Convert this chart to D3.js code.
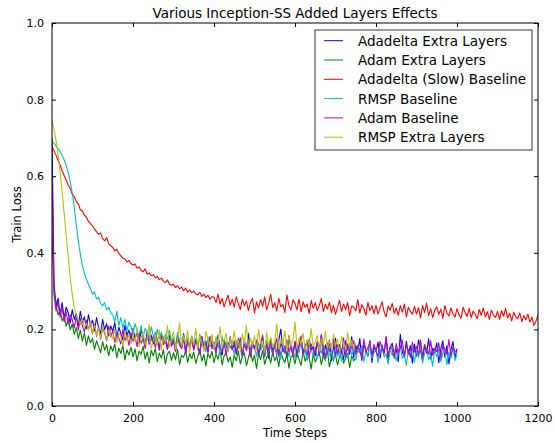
<!DOCTYPE html>
<html lang="en">
<head>
<meta charset="UTF-8">
<title>Inception-SS</title>
<script src="https://d3js.org/d3.v7.min.js"></script>
<style>
  body{ margin:0; padding:0; background:#fff; }
  svg{ display:block; font-family:"DejaVu Sans", sans-serif; }
</style>
</head>
<body>
<svg id="misvg"></svg>
<script>
// one value every 5 time steps
let paso = 5;

let adadeltaExtra = [
 .700,.320,.262,.281,.238,.270,.229,.258,.244,.217,
 .252,.226,.241,.209,.247,.218,.233,.201,.239,.212,
 .224,.196,.231,.205,.188,.226,.199,.215,.183,.209,
 .195,.218,.178,.206,.189,.172,.211,.184,.198,.169,
 .203,.176,.192,.163,.199,.181,.158,.194,.170,.185,
 .162,.191,.173,.150,.187,.166,.179,.148,.184,.160,
 .176,.145,.183,.164,.152,.189,.141,.171,.158,.180,
 .147,.174,.160,.137,.182,.153,.169,.142,.178,.155,
 .166,.139,.185,.150,.133,.172,.158,.144,.181,.148,
 .161,.135,.176,.152,.128,.168,.145,.189,.140,.163,
 .149,.171,.131,.158,.180,.137,.165,.124,.175,.146,
 .160,.133,.172,.201,.142,.156,.127,.183,.150,.138,
 .169,.129,.157,.178,.136,.162,.121,.174,.147,.155,
 .131,.168,.144,.185,.126,.159,.139,.172,.118,.153,
 .177,.132,.160,.143,.121,.170,.149,.135,.181,.127,
 .158,.140,.176,.119,.163,.146,.130,.171,.114,.155,
 .142,.167,.125,.159,.137,.178,.120,.152,.164,.133,
 .149,.116,.187,.141,.127,.169,.135,.158,.112,.162,
 .130,.173,.145,.118,.160,.138,.176,.123,.151,.140,
 .165,.113,.149,.170,.128,.157,.110,.146,.168,.125,
 .150]

let adamExtra = [
 .450,.300,.262,.238,.251,.222,.236,.208,.229,.199,
 .214,.187,.205,.176,.198,.169,.191,.158,.183,.165,
 .176,.148,.170,.155,.139,.168,.146,.160,.131,.157,
 .143,.162,.126,.151,.137,.158,.120,.147,.133,.154,
 .128,.149,.118,.143,.135,.156,.122,.141,.112,.146,
 .131,.150,.116,.138,.125,.147,.110,.136,.143,.119,
 .139,.121,.148,.108,.133,.127,.145,.114,.137,.124,
 .141,.111,.130,.146,.117,.135,.104,.138,.125,.143,
 .113,.136,.122,.149,.107,.131,.140,.115,.128,.101,
 .134,.118,.144,.110,.129,.139,.105,.126,.147,.116,
 .132,.098,.138,.121,.145,.109,.127,.135,.112,.141,
 .118,.130,.103,.142,.124,.113,.137,.099,.128,.133,
 .110,.139,.121,.106,.143,.117,.131,.125,.097,.136,
 .115,.128,.140,.108,.132,.119,.145,.102,.127,.121,
 .134,.107,.129,.140,.112,.124,.138,.100,.131,.118,
 .126]

let adadeltaSlow = [
 .677,.666,.655,.641,.630,.614,.602,.590,.577,.568,
 .553,.547,.533,.528,.512,.509,.498,.493,.482,.476,
 .470,.462,.455,.448,.452,.437,.431,.440,.424,.418,
 .414,.405,.409,.398,.392,.386,.384,.376,.380,.372,
 .368,.371,.360,.363,.354,.350,.358,.344,.347,.340,
 .343,.335,.338,.330,.334,.326,.322,.329,.318,.315,
 .318,.309,.314,.306,.311,.301,.308,.297,.303,.296,
 .300,.293,.290,.297,.286,.292,.283,.289,.279,.286,
 .284,.270,.292,.266,.281,.259,.276,.289,.263,.279,
 .258,.285,.268,.252,.279,.262,.274,.249,.270,.281,
 .243,.272,.256,.278,.260,.285,.251,.268,.292,.257,
 .270,.248,.281,.259,.265,.244,.290,.262,.251,.277,
 .268,.251,.279,.246,.272,.258,.266,.242,.276,.255,
 .270,.249,.262,.281,.247,.266,.253,.271,.244,.263,
 .239,.259,.276,.247,.266,.252,.270,.236,.261,.258,
 .248,.278,.243,.265,.254,.237,.270,.249,.262,.241,
 .263,.240,.257,.272,.246,.233,.261,.250,.268,.242,
 .256,.237,.262,.245,.266,.232,.258,.247,.240,.260,
 .240,.257,.230,.262,.244,.269,.236,.254,.231,.250,
 .259,.239,.253,.229,.262,.243,.235,.256,.241,.232,
 .254,.238,.229,.258,.244,.234,.255,.231,.248,.239,
 .228,.252,.237,.256,.233,.246,.226,.250,.238,.231,
 .247,.226,.249,.235,.255,.230,.242,.222,.245,.233,
 .228,.243,.220,.236,.225,.240,.219,.232,.210,.221,
 .238]

let rmspBase = [
 .690,.686,.679,.672,.664,.655,.643,.628,.610,.586,
 .556,.518,.472,.431,.396,.367,.346,.331,.318,.306,
 .292,.298,.279,.284,.268,.262,.270,.251,.258,.243,
 .238,.219,.247,.210,.231,.203,.226,.196,.219,.207,
 .189,.215,.196,.182,.210,.178,.203,.191,.172,.207,
 .184,.168,.201,.176,.193,.161,.188,.174,.198,.165,
 .180,.157,.192,.171,.150,.186,.165,.177,.148,.183,
 .162,.175,.146,.187,.158,.169,.141,.180,.155,.172,
 .149,.176,.160,.138,.181,.152,.167,.143,.174,.156,
 .137,.170,.151,.163,.132,.175,.147,.158,.139,.168,
 .153,.130,.166,.145,.160,.127,.171,.142,.155,.136,
 .164,.133,.150,.122,.169,.141,.157,.128,.161,.146,
 .125,.158,.139,.167,.131,.150,.119,.162,.143,.136,
 .156,.124,.148,.138,.165,.121,.152,.133,.145,.115,
 .159,.130,.142,.118,.155,.137,.126,.161,.134,.147,
 .120,.151,.139,.157,.116,.144,.131,.163,.125,.138,
 .149,.113,.142,.155,.128,.136,.109,.150,.132,.145,
 .118,.140,.157,.124,.135,.106,.147,.130,.152,.115,
 .143,.127,.160,.112,.138,.149,.121,.133,.104,.146,
 .129,.152,.116,.137,.145,.108,.141,.123,.155,.119,
 .135]

let adamBase = [
 .620,.290,.248,.271,.232,.259,.220,.246,.213,.238,
 .225,.204,.236,.198,.229,.210,.193,.224,.200,.216,
 .188,.214,.182,.207,.175,.203,.191,.170,.209,.181,
 .196,.166,.190,.178,.162,.200,.171,.185,.158,.192,
 .169,.183,.155,.189,.164,.176,.150,.186,.161,.172,
 .181,.153,.175,.145,.184,.160,.171,.148,.179,.156,
 .168,.142,.180,.159,.150,.176,.138,.169,.154,.174,
 .146,.173,.157,.135,.177,.151,.164,.140,.182,.149,
 .162,.137,.175,.153,.143,.171,.132,.166,.155,.148,
 .170,.139,.158,.178,.134,.161,.146,.169,.128,.163,
 .150,.172,.136,.157,.185,.131,.160,.147,.168,.133,
 .158,.176,.129,.164,.149,.138,.173,.142,.156,.130,
 .167,.137,.159,.183,.134,.150,.171,.127,.162,.145,
 .139,.168,.132,.187,.151,.126,.165,.143,.157,.174,
 .131,.160,.148,.136,.178,.129,.163,.141,.154,.170,
 .135,.158,.146,.124,.175,.140,.152,.167,.133,.161,
 .144,.128,.169,.150,.137,.182,.131,.156,.148,.125,
 .163,.139,.152,.172,.130,.158,.145,.127,.166,.141,
 .155,.134,.173,.129,.160,.147,.136,.170,.132,.151,
 .142,.165,.126,.158,.149,.135,.174,.130,.153,.144,
 .140]

let rmspExtra = [
 .745,.722,.693,.657,.612,.560,.503,.446,.390,.336,
 .291,.258,.236,.224,.213,.228,.205,.216,.198,.221,
 .190,.212,.185,.203,.178,.208,.194,.172,.199,.183,
 .176,.201,.165,.190,.182,.158,.196,.170,.187,.162,
 .185,.168,.205,.155,.179,.192,.160,.174,.213,.150,
 .171,.188,.158,.199,.146,.182,.167,.210,.153,.176,
 .194,.149,.172,.218,.156,.181,.163,.197,.142,.178,
 .160,.203,.151,.184,.168,.142,.195,.175,.157,.188,
 .148,.181,.166,.207,.153,.170,.190,.145,.178,.162,
 .196,.155,.173,.141,.188,.164,.211,.150,.176,.159,
 .183,.147,.200,.162,.171,.139,.192,.158,.180,.153,
 .168,.214,.149,.175,.161,.197,.143,.185,.157,.172,
 .220,.151,.178,.164,.190,.146,.173,.159,.202,.155,
 .168,.184,.143,.176,.160,.195,.152,.170,.148,.187,
 .158,.175,.141,.182,.163,.150,.192,.156,.171,.148,
 .165]

let nombres = ["Adadelta Extra Layers", "Adam Extra Layers", "Adadelta (Slow) Baseline",
               "RMSP Baseline", "Adam Baseline", "RMSP Extra Layers"]
let colores = ["#0000ff", "#008000", "#ff0000", "#00bfbf", "#bf00bf", "#bfbf00"]
let series = [adadeltaExtra, adamExtra, adadeltaSlow, rmspBase, adamBase, rmspExtra]

let ticksX = [0, 200, 400, 600, 800, 1000, 1200]
let ticksY = [0.0, 0.2, 0.4, 0.6, 0.8, 1.0]

let svgw = 555, svgh = 443
let margen = {izq:52, der:17, sup:23, inf:37}
let grafw = svgw - margen.izq - margen.der
let grafh = svgh - margen.sup - margen.inf

let svg = d3.select("#misvg").attr("width", svgw).attr("height", svgh)

let escalaX = d3.scaleLinear().domain([0, 1200]).range([0, grafw])
let escalaY = d3.scaleLinear().domain([0, 1]).range([grafh, 0])

let g = svg.append("g").attr("transform", `translate(${margen.izq},${margen.sup})`)

g.append("clipPath").attr("id", "recorte")
  .append("rect").attr("width", grafw).attr("height", grafh)

let linea = d3.line()
  .x((d, i) => escalaX(i * paso))
  .y(d => escalaY(d))

g.append("g").attr("clip-path", "url(#recorte)")
  .selectAll("path")
  .data(series)
  .enter().append("path")
  .attr("d", linea)
  .attr("fill", "none")
  .attr("stroke", (d, i) => colores[i])
  .attr("stroke-width", 1.1)
  .attr("stroke-linejoin", "round")

// ejes estilo matplotlib: ticks hacia dentro en los cuatro lados
function estilo(sel) {
  sel.select(".domain").remove()
  sel.selectAll("text").attr("font-family", "DejaVu Sans").attr("font-size", 11).attr("fill", "#000")
  sel.selectAll("line").attr("stroke", "#000")
}

g.append("g").attr("transform", `translate(0,${grafh})`)
  .call(d3.axisBottom(escalaX).tickValues(ticksX).tickFormat(d3.format("d")).tickSizeInner(-4).tickPadding(8))
  .call(estilo)
g.append("g")
  .call(d3.axisTop(escalaX).tickValues(ticksX).tickSizeInner(-4).tickFormat(""))
  .call(estilo)
g.append("g")
  .call(d3.axisLeft(escalaY).tickValues(ticksY).tickFormat(d3.format(".1f")).tickSizeInner(-4).tickPadding(8))
  .call(estilo)
g.append("g").attr("transform", `translate(${grafw},0)`)
  .call(d3.axisRight(escalaY).tickValues(ticksY).tickSizeInner(-4).tickFormat(""))
  .call(estilo)

g.append("rect").attr("width", grafw).attr("height", grafh)
  .attr("fill", "none").attr("stroke", "#000").attr("stroke-width", 1)

svg.append("text").attr("x", margen.izq + grafw / 2).attr("y", 18)
  .attr("text-anchor", "middle").attr("font-size", 13.5).text("Various Inception-SS Added Layers Effects")
svg.append("text").attr("x", margen.izq + grafw / 2).attr("y", 437)
  .attr("text-anchor", "middle").attr("font-size", 11.5).text("Time Steps")
svg.append("text").attr("transform", `translate(21,${margen.sup + grafh / 2}) rotate(-90)`)
  .attr("text-anchor", "middle").attr("font-size", 11.5).text("Train Loss")

// leyenda
let ley = svg.append("g").attr("transform", "translate(315,30)")
ley.append("rect").attr("width", 217).attr("height", 120)
  .attr("fill", "#fff").attr("stroke", "#333").attr("stroke-width", 1)
let items = ley.selectAll(".item").data(nombres).enter().append("g")
  .attr("transform", (d, i) => `translate(0,${10.7 + i * 19.3})`)
items.append("line").attr("x1", 9).attr("x2", 28)
  .attr("stroke", (d, i) => colores[i]).attr("stroke-width", 1)
items.append("text").attr("x", 43).attr("y", 5).attr("font-size", 13.5).text(d => d)
</script>
</body>
</html>
